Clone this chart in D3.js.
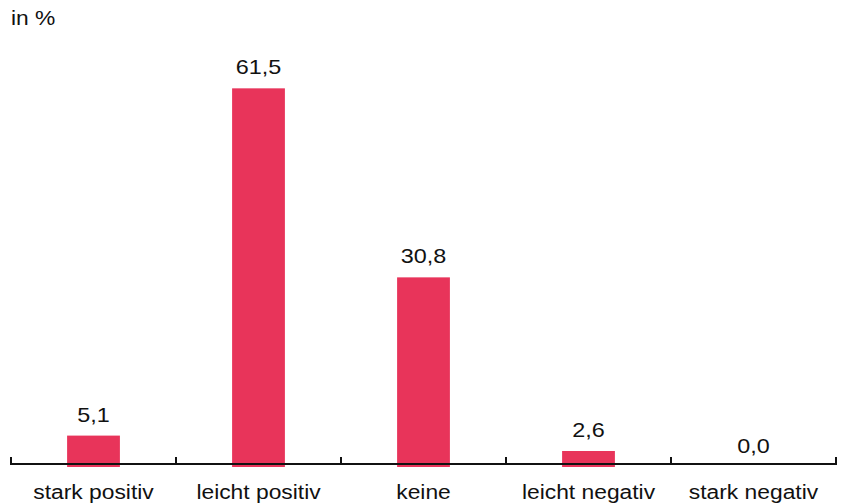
<!DOCTYPE html>
<html>
<head>
<meta charset="utf-8">
<script src="https://cdn.jsdelivr.net/npm/d3@7"></script>
<style>
  body { margin: 0; background: #fff; }
  text { font-family: "Liberation Sans", Arial, sans-serif; fill: #111; }
</style>
</head>
<body>
<div id="chart"></div>
<script>
// Data
const categories = ["stark positiv", "leicht positiv", "keine", "leicht negativ", "stark negativ"];
const values = [5.1, 61.5, 30.8, 2.6, 0.0];
const unitLabel = "in %";

const width = 844, height = 503;
const barColor = "#e8345a";
const stretch = 1.17; // text in the original is a bit wider than it is tall

const svg = d3.select("#chart").append("svg")
    .attr("width", width)
    .attr("height", height);

// Scales
const x = d3.scaleBand()
    .domain(categories)
    .range([11, 836])
    .paddingInner(0.68)
    .paddingOuter(0.34);

const y = d3.scaleLinear()
    .domain([0, 70])
    .range([467, 36]);

const axisY = 464;

// helper: place text at (px, py) with horizontal stretch
const place = (px, py) => `translate(${px},${py}) scale(${stretch},1)`;

// Bars
svg.selectAll("rect.bar")
    .data(values)
    .enter().append("rect")
    .attr("class", "bar")
    .attr("x", (d, i) => x(categories[i]))
    .attr("width", x.bandwidth())
    .attr("y", d => y(d))
    .attr("height", d => y(0) - y(d))
    .style("fill", barColor);

// Axis line + ticks (ticks at band edges, pointing up)
const g = svg.append("g");
g.append("line")
    .attr("x1", 11).attr("x2", 836)
    .attr("y1", axisY).attr("y2", axisY)
    .style("stroke", "#111").style("stroke-width", 2);

const step = x.step();
const edges = d3.range(categories.length + 1).map(i => 11 + i * step);
g.selectAll("line.tick")
    .data(edges)
    .enter().append("line")
    .attr("class", "tick")
    .attr("x1", d => d).attr("x2", d => d)
    .attr("y1", axisY - 7).attr("y2", axisY + 1)
    .style("stroke", "#111").style("stroke-width", 2);

// Category labels
svg.selectAll("text.cat")
    .data(categories)
    .enter().append("text")
    .attr("class", "cat")
    .attr("transform", d => place(x(d) + x.bandwidth() / 2, 498.5))
    .attr("text-anchor", "middle")
    .style("font-size", "19.5px")
    .text(d => d);

// Value labels
const fmt = d => d.toFixed(1).replace(".", ",");
svg.selectAll("text.val")
    .data(values)
    .enter().append("text")
    .attr("class", "val")
    .attr("transform", (d, i) => place(x(categories[i]) + x.bandwidth() / 2, y(d) - 14))
    .attr("text-anchor", "middle")
    .style("font-size", "20px")
    .text(fmt);

// Unit label
svg.append("text")
    .attr("transform", place(11, 25))
    .style("font-size", "19.5px")
    .text(unitLabel);
</script>
</body>
</html>
